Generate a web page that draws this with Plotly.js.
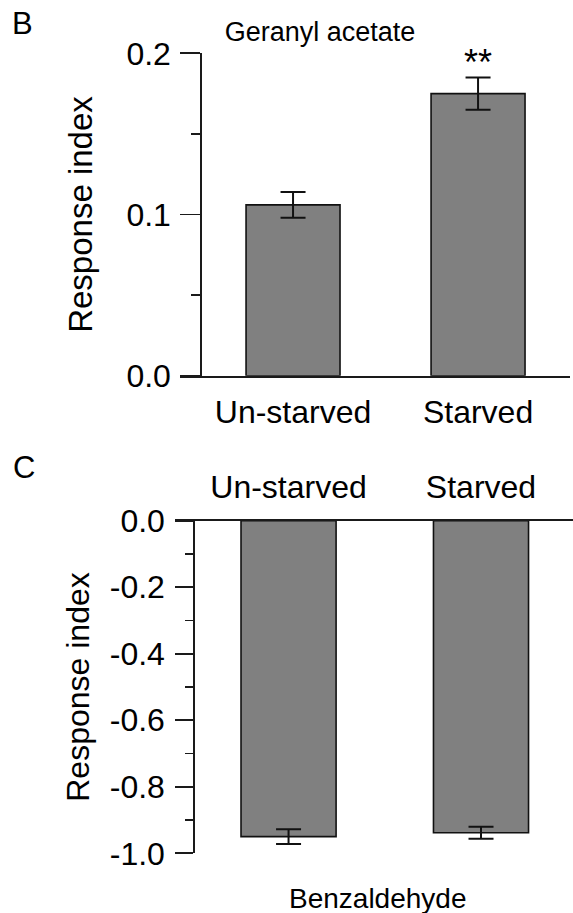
<!DOCTYPE html>
<html>
<head>
<meta charset="utf-8">
<script src="https://cdn.plot.ly/plotly-3.0.1.min.js"></script>
<style>html,body{margin:0;padding:0;background:#fff;}#chart{width:573px;height:913px;}</style>
</head>
<body>
<div id="chart"></div>
<script>
// ---- data ----
const categories = ['Un-starved', 'Starved'];
const geranylValues = [0.106, 0.175];
const geranylErrors = [0.008, 0.010];
const benzValues = [-0.950, -0.938];
const benzErrors = [0.022, 0.018];
const topTickVals = [0, 0.1, 0.2];
const topTickText = ['0.0', '0.1', '0.2'];
const bottomTickVals = [0, -0.2, -0.4, -0.6, -0.8, -1.0];
const bottomTickText = ['0.0', '-0.2', '-0.4', '-0.6', '-0.8', '-1.0'];
const topTitle = 'Geranyl acetate';
const bottomTitle = 'Benzaldehyde';
const yTitle = 'Response index';

const W = 573, H = 913;
const FONT = 'Liberation Sans, Arial, sans-serif';
const TXT = '#000';
const LINE = '#1a1a1a';

const barStyle = {color: '#808080', line: {color: '#111', width: 1.6}};
const errStyle = {type: 'data', visible: true, color: '#111', thickness: 2, width: 12.5};

const traces = [
  {type: 'bar', x: categories, y: geranylValues, xaxis: 'x', yaxis: 'y',
   width: 0.508, marker: barStyle,
   error_y: Object.assign({array: geranylErrors}, errStyle), hoverinfo: 'skip'},
  {type: 'bar', x: categories, y: benzValues, xaxis: 'x2', yaxis: 'y2',
   width: 0.494, marker: barStyle,
   error_y: Object.assign({array: benzErrors}, errStyle), hoverinfo: 'skip'}
];

const px = v => v / W;
const py = v => 1 - v / H;

const layout = {
  width: W, height: H,
  margin: {l: 0, r: 0, t: 0, b: 0},
  paper_bgcolor: '#fff', plot_bgcolor: 'rgba(0,0,0,0)',
  showlegend: false,
  font: {family: FONT, color: TXT, size: 30},
  title: {text: topTitle, font: {family: FONT, size: 27, color: TXT},
          x: px(320), xanchor: 'center', xref: 'paper',
          y: py(32), yanchor: 'middle', yref: 'container'},
  xaxis: {domain: [px(180), px(570)], anchor: 'y', type: 'category',
          range: [-0.611, 1.497], showline: true, linecolor: LINE, linewidth: 1.8,
          ticks: 'outside', ticklen: 7, tickcolor: 'rgba(0,0,0,0)',
          tickfont: {size: 32, family: FONT, color: TXT},
          showgrid: false, zeroline: false, automargin: false, fixedrange: true},
  yaxis: {domain: [py(375.7), py(53.3)], anchor: 'free', position: px(200.3),
          range: [0, 0.2], showline: true, linecolor: LINE, linewidth: 1.8,
          tickmode: 'array', tickvals: topTickVals, ticktext: topTickText,
          ticks: 'outside', ticklen: 20, tickwidth: 1.8, tickcolor: LINE,
          ticklabelstandoff: 3,
          minor: {dtick: 0.05, tick0: 0, ticks: 'outside', ticklen: 9.5, tickwidth: 1.6, tickcolor: LINE, showgrid: false},
          tickfont: {size: 32, family: FONT, color: TXT},
          title: {text: yTitle, font: {size: 33, family: FONT, color: TXT}, standoff: 22},
          showgrid: false, zeroline: false, automargin: false, fixedrange: true},
  xaxis2: {domain: [px(175), 1], anchor: 'y2', side: 'top', type: 'category',
           range: [-0.590, 1.478], showline: true, linecolor: LINE, linewidth: 1.8,
           ticks: 'outside', ticklen: 8, tickcolor: 'rgba(0,0,0,0)',
           tickfont: {size: 32, family: FONT, color: TXT},
           showgrid: false, zeroline: false, automargin: false, fixedrange: true},
  yaxis2: {domain: [py(853.3), py(520.7)], anchor: 'free', position: px(193.3),
           range: [-1, 0], showline: true, linecolor: LINE, linewidth: 1.8,
           tickmode: 'array', tickvals: bottomTickVals, ticktext: bottomTickText,
           ticks: 'outside', ticklen: 18, tickwidth: 1.8, tickcolor: LINE,
           ticklabelstandoff: 4,
           minor: {dtick: 0.1, tick0: 0, ticks: 'outside', ticklen: 8.5, tickwidth: 1.6, tickcolor: LINE, showgrid: false},
           tickfont: {size: 32, family: FONT, color: TXT},
           title: {text: yTitle, font: {size: 32, family: FONT, color: TXT}, standoff: 9},
           showgrid: false, zeroline: false, automargin: false, fixedrange: true},
  annotations: [
    {text: 'B', xref: 'paper', yref: 'paper', x: px(10), y: py(23), xanchor: 'left', yanchor: 'middle',
     showarrow: false, font: {size: 31, family: FONT, color: TXT}},
    {text: 'C', xref: 'paper', yref: 'paper', x: px(11), y: py(468), xanchor: 'left', yanchor: 'middle',
     showarrow: false, font: {size: 31, family: FONT, color: TXT}},
    {text: '**', xref: 'x', yref: 'y', x: 1, y: 0.2, xanchor: 'center', yanchor: 'middle',
     yshift: -9, showarrow: false, font: {size: 36, family: FONT, color: TXT}},
    {text: bottomTitle, xref: 'paper', yref: 'paper', x: px(377), y: py(898), xanchor: 'center', yanchor: 'middle',
     showarrow: false, font: {size: 28, family: FONT, color: TXT}}
  ]
};

Plotly.newPlot('chart', traces, layout, {displayModeBar: false, staticPlot: true});
</script>
</body>
</html>
